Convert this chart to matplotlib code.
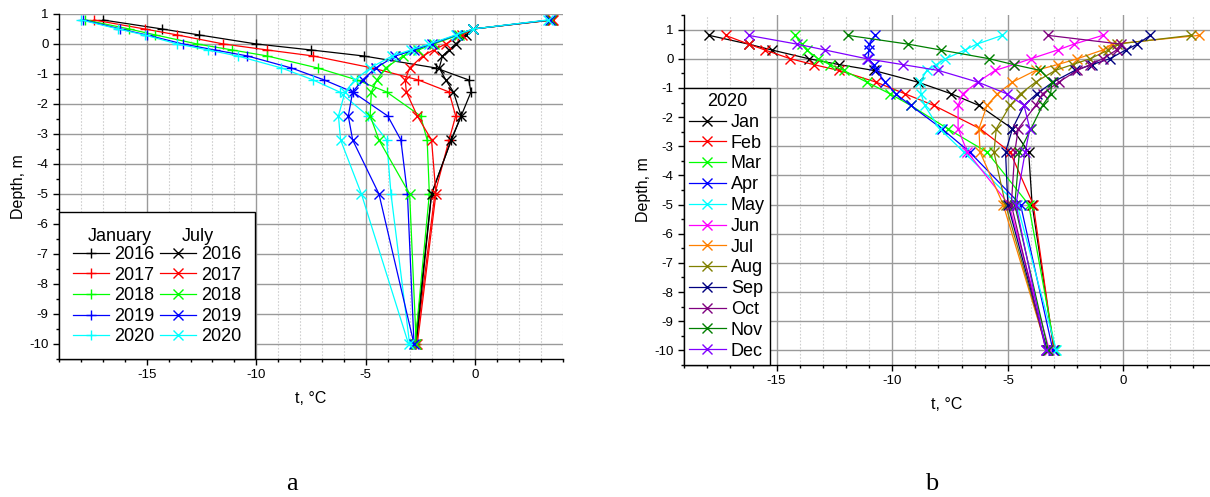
import matplotlib
matplotlib.use('Agg')
import matplotlib.pyplot as plt
from matplotlib.ticker import MultipleLocator
from matplotlib.lines import Line2D

plt.rcParams['font.family'] = ['Liberation Sans', 'DejaVu Sans']
plt.rcParams['axes.unicode_minus'] = False

# depths of the sensors, m
depth = [0.8, 0.5, 0.3, 0, -0.2, -0.4, -0.8, -1.2, -1.6, -2.4, -3.2, -5, -10]

# panel a: January and July profiles, t in degC
years = ['2016', '2017', '2018', '2019', '2020']
jan2016 = [-17.0, -14.3, -12.6, -10.0, -7.5, -5.1, -1.8, -0.3, -0.2, -0.65, -1.1, -2.0, -2.75]
jan2017 = [-17.4, -15.1, -13.6, -11.5, -9.5, -7.4, -4.7, -2.6, -1.2, -0.9, -1.2, -1.85, -2.7]
jan2018 = [-17.8, -15.8, -14.6, -12.7, -11.1, -9.5, -7.2, -5.4, -4.05, -2.5, -2.2, -2.1, -2.75]
jan2019 = [-17.9, -16.2, -15.0, -13.35, -11.9, -10.4, -8.4, -6.9, -5.6, -4.0, -3.4, -3.1, -2.8]
jan2020 = [-18.0, -16.3, -15.1, -13.6, -12.2, -10.85, -8.85, -7.4, -6.2, -4.9, -4.05, -3.85, -3.0]

jul2016 = [3.5, -0.1, -0.45, -0.9, -1.2, -1.5, -1.65, -1.35, -1.0, -0.65, -1.1, -2.0, -2.7]
jul2017 = [3.55, -0.1, -0.6, -1.35, -1.9, -2.4, -3.0, -3.2, -3.15, -2.65, -2.0, -1.8, -2.65]
jul2018 = [3.45, -0.1, -0.75, -1.9, -2.6, -3.3, -4.1, -4.5, -4.75, -4.8, -4.4, -3.0, -2.7]
jul2019 = [3.4, -0.1, -0.85, -2.0, -2.8, -3.65, -4.55, -5.15, -5.6, -5.8, -5.6, -4.4, -2.8]
jul2020 = [3.3, -0.1, -0.9, -2.1, -2.95, -3.8, -4.8, -5.5, -5.95, -6.25, -6.15, -5.2, -3.05]

# panel b: monthly profiles 2020
months = ['Jan', 'Feb', 'Mar', 'Apr', 'May', 'Jun', 'Jul', 'Aug', 'Sep', 'Oct', 'Nov', 'Dec']
m_jan = [-17.9, -16.2, -15.2, -13.6, -12.3, -10.8, -8.9, -7.45, -6.25, -4.8, -4.1, -3.95, -3.0]
m_feb = [-17.2, -16.2, -15.5, -14.4, -13.4, -12.3, -10.7, -9.45, -8.2, -6.2, -4.9, -3.9, -3.0]
m_mar = [-14.2, -13.9, -13.7, -13.2, -12.7, -12.1, -11.1, -10.1, -9.2, -7.6, -5.9, -4.1, -2.95]
m_apr = [-10.75, -11.0, -11.0, -11.05, -10.8, -10.7, -10.3, -9.85, -9.2, -7.85, -6.65, -4.45, -3.05]
m_may = [-5.25, -6.35, -6.85, -7.7, -8.1, -8.5, -8.8, -8.75, -8.6, -7.95, -6.9, -4.6, -2.9]
m_jun = [-0.9, -2.15, -2.85, -4.0, -4.75, -5.55, -6.3, -6.95, -7.15, -7.15, -6.75, -4.95, -3.2]
m_jul = [3.25, -0.5, -0.9, -2.0, -2.85, -3.8, -4.8, -5.45, -5.9, -6.25, -6.2, -5.2, -3.3]
m_aug = [2.9, -0.3, -0.65, -1.45, -2.2, -2.95, -3.8, -4.45, -4.9, -5.5, -5.6, -5.1, -3.3]
m_sep = [1.15, 0.6, 0.1, -0.6, -1.35, -2.1, -3.05, -3.75, -4.3, -4.8, -5.1, -5.0, -3.3]
m_oct = [-3.25, -0.1, -0.3, -0.9, -1.45, -2.0, -2.8, -3.5, -3.8, -4.55, -4.7, -4.85, -3.35]
m_nov = [-11.9, -9.3, -7.9, -5.8, -4.75, -3.6, -3.1, -3.15, -3.5, -4.0, -4.5, -4.7, -3.25]
m_dec = [-16.2, -14.1, -12.9, -11.1, -9.55, -8.0, -6.3, -5.05, -4.3, -4.05, -4.25, -4.65, -3.35]

year_colors = ['#000000', '#ff0000', '#00ff00', '#0000ff', '#00ffff']
month_colors = ['#000000', '#ff0000', '#00ff00', '#0000ff', '#00ffff', '#ff00ff',
                '#ff8000', '#808000', '#000080', '#800080', '#008000', '#8000ff']


def style(ax, xlim, ylim):
    ax.set_xlim(*xlim)
    ax.set_ylim(*ylim)
    ax.xaxis.set_major_locator(MultipleLocator(5))
    ax.xaxis.set_minor_locator(MultipleLocator(1))
    ax.yaxis.set_major_locator(MultipleLocator(1))
    ax.yaxis.set_minor_locator(MultipleLocator(0.5))
    ax.spines[['top', 'right']].set_visible(False)
    ax.spines[['left', 'bottom']].set_linewidth(1.0)
    ax.grid(True, which='major', color='#9a9a9a', lw=1.0)
    ax.grid(True, which='minor', axis='x', color='#cfcfcf', lw=0.8, ls=(0, (1.5, 1.5)))
    ax.tick_params(which='major', direction='out', length=4, width=1, labelsize=9.5)
    ax.tick_params(which='minor', direction='out', length=2.5, width=1)
    ax.set_axisbelow(True)
    ax.set_xlabel('t, °C', fontsize=11.5, labelpad=7)
    ax.set_ylabel('Depth, m', fontsize=11.5, labelpad=2)


fig = plt.figure(figsize=(12.1, 4.97), dpi=100)
axa = fig.add_axes([0.0488, 0.2777, 0.4165, 0.6942])
axb = fig.add_axes([0.5653, 0.2656, 0.4347, 0.7042])

# ---- panel a
style(axa, (-19, 4), (-10.5, 1))
axa.get_ygridlines()[-1].set_visible(False)

jan_lines = []
for vals, c in zip([jan2016, jan2017, jan2018, jan2019, jan2020], year_colors):
    ln, = axa.plot(vals, depth, color=c, lw=0.9, marker='+', ms=7, mew=1.0)
    jan_lines.append(ln)
jul_lines = []
for vals, c in zip([jul2016, jul2017, jul2018, jul2019, jul2020], year_colors):
    ln, = axa.plot(vals, depth, color=c, lw=0.9, marker='x', ms=7, mew=1.0)
    jul_lines.append(ln)

blank = Line2D([], [], color='none')
leg = axa.legend([blank] + jan_lines + [blank] + jul_lines,
                 [' '] + years + [' '] + years,
                 ncol=2, loc='lower left', bbox_to_anchor=(0, 0), borderaxespad=0,
                 fontsize=13, handlelength=2.0, handletextpad=0.3, columnspacing=0.3,
                 labelspacing=0.2, borderpad=0.75, fancybox=False, edgecolor='black',
                 framealpha=1)
leg.get_frame().set_linewidth(1.0)
axa.text(0.0575, 0.3545, 'January', transform=axa.transAxes, fontsize=13,
         va='center', ha='left', zorder=10)
axa.text(0.244, 0.3545, 'July', transform=axa.transAxes, fontsize=13,
         va='center', ha='left', zorder=10)

# ---- panel b
style(axb, (-19, 3.74), (-10.5, 1.5))
month_data = [m_jan, m_feb, m_mar, m_apr, m_may, m_jun, m_jul, m_aug, m_sep, m_oct, m_nov, m_dec]
for vals, c, m in zip(month_data, month_colors, months):
    axb.plot(vals, depth, color=c, lw=0.9, marker='x', ms=7, mew=1.0, label=m)

legb = axb.legend(loc='lower left', bbox_to_anchor=(0, 0), borderaxespad=0,
                  title='2020', fontsize=13, title_fontsize=13, handlelength=2.0,
                  handletextpad=0.3, labelspacing=0.21, borderpad=0.3,
                  fancybox=False, edgecolor='black', framealpha=1)
legb.get_frame().set_linewidth(1.0)

fig.text(292 / 1210, 1 - 490 / 497, 'a', family='Liberation Serif', fontsize=19,
         ha='center', va='baseline')
fig.text(932 / 1210, 1 - 490 / 497, 'b', family='Liberation Serif', fontsize=19,
         ha='center', va='baseline')

fig.savefig('out.png', dpi=100)
